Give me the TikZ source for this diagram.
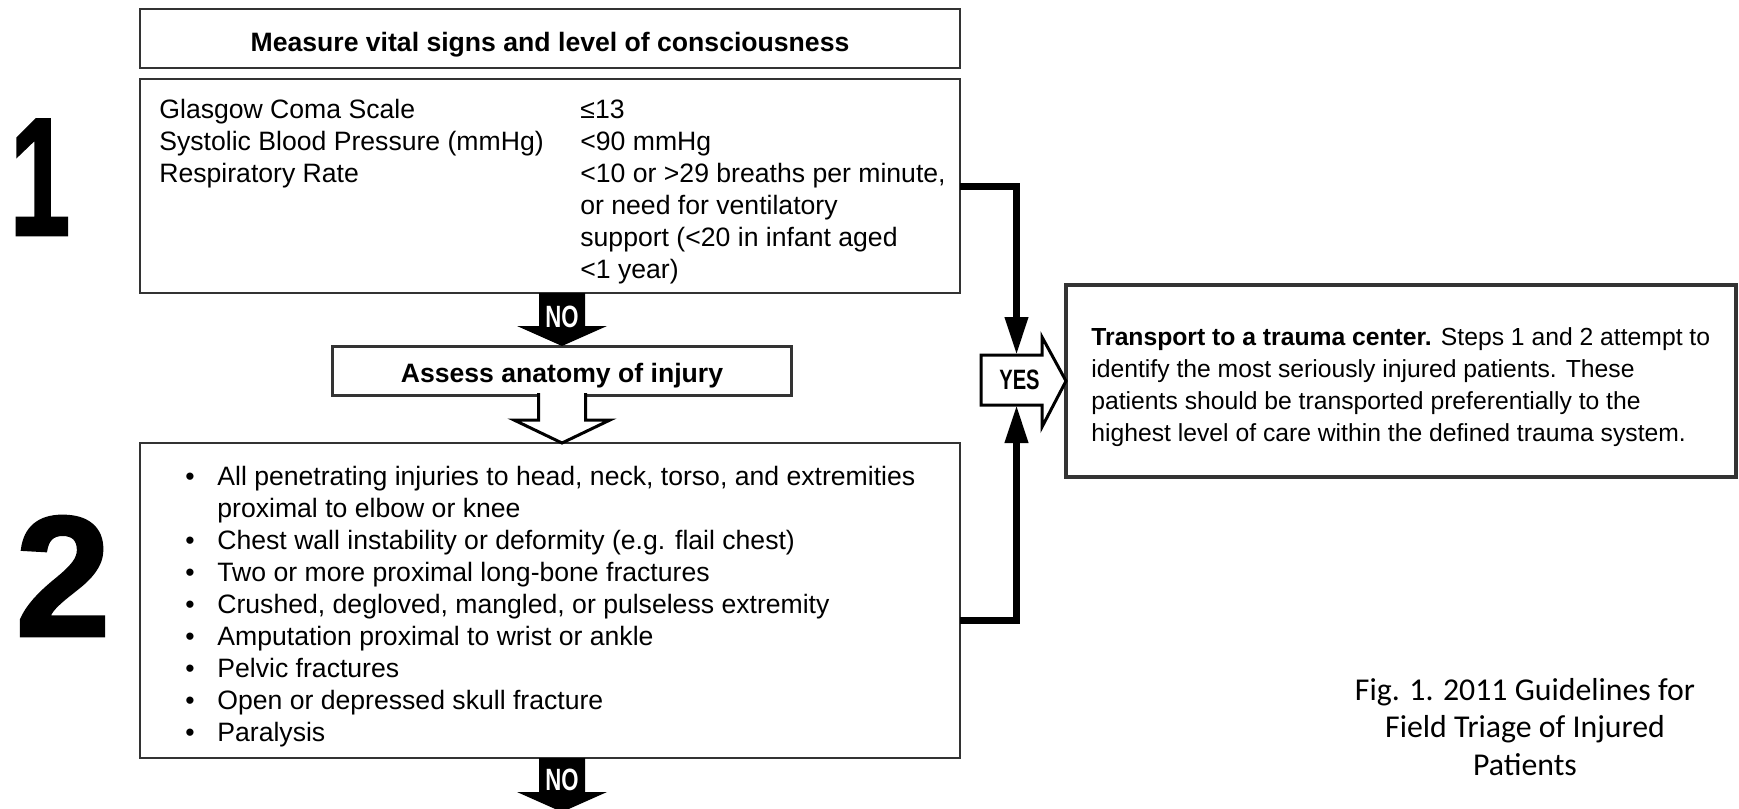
\documentclass[tikz,border=0pt]{standalone}
\usepackage{fontspec}
\usepackage{graphicx}
\setmainfont{Liberation Sans}
\newfontfamily\capfont{Carlito}
\newfontfamily\stepnum[FakeBold=1.5]{Liberation Sans Bold}
\usetikzlibrary{arrows.meta,calc}

\tikzset{
  box/.style={draw=black!80,line width=1.2pt,inner sep=0pt,outer sep=0pt},
  boxtext/.style={anchor=north west,inner sep=0pt,font=\fontsize{13.3}{16}\selectfont},
  headtext/.style={font=\fontsize{13.3}{16}\selectfont\bfseries,text depth=0pt},
  nolabel/.style={text=white,inner sep=0pt,font=\fontsize{15.4}{16}\selectfont\bfseries},
  hollow/.style={draw=black,fill=white,line width=1.5pt,line join=miter},
  conn/.style={line width=3.5pt,-{Triangle[length=19pt,width=11pt]}},
  stepno/.style={anchor=base,inner sep=0pt},
}
\newcommand{\cond}[1]{\scalebox{0.72}[1]{#1}}

\begin{document}
\begin{tikzpicture}[x=0.5pt,y=-0.5pt]
\useasboundingbox (0,0) rectangle (1739,808);

% step numbers
\node[stepno,font=\stepnum\fontsize{84}{84}\selectfont] (one) at (40,235) {\scalebox{0.65}[1]{1}};
\node[stepno,font=\stepnum\fontsize{86}{86}\selectfont] (two) at (63,636) {2};

% boxes
\node[box,headtext,text height=13pt,minimum width=410pt,minimum height=29.5pt] (measure) at (550,38.5) {Measure vital signs and level of consciousness};
\node[box,minimum width=410pt,minimum height=107pt] (vital) at (550,186) {};
\node[box,headtext,text height=11.5pt,line width=1.5pt,minimum width=229.5pt,minimum height=24.5pt] (assess) at (562,370.5) {Assess anatomy of injury};
\node[box,minimum width=410pt,minimum height=157.5pt] (anatomy) at (550,600.5) {};
\node[box,line width=2pt,minimum width=335pt,minimum height=96pt] (transport) at (1401,381) {};

\node[boxtext] (vitalcrit) at ($(vital.north west)+(19,16.6)$) {\begin{tabular}{@{}p{210.5pt}@{}l@{}}
Glasgow Coma Scale & ≤13\\
Systolic Blood Pressure (mmHg) & <90 mmHg\\
Respiratory Rate & <10 or >29 breaths per minute,\\
 & or need for ventilatory\\
 & support (<20 in infant aged\\
 & <1 year)
\end{tabular}};

\node[boxtext] (injurylist) at ($(anatomy.north west)+(45,19.6)$) {\begin{tabular}{@{}p{16pt}@{}l@{}}
• & All penetrating injuries to head, neck, torso, and extremities\\
 & proximal to elbow or knee\\
• & Chest wall instability or deformity (e.g. flail chest)\\
• & Two or more proximal long-bone fractures\\
• & Crushed, degloved, mangled, or pulseless extremity\\
• & Amputation proximal to wrist or ankle\\
• & Pelvic fractures\\
• & Open or depressed skull fracture\\
• & Paralysis
\end{tabular}};

\node[boxtext,font=\fontsize{12.35}{16}\selectfont] (transporttext) at ($(transport.north west)+(25,37.6)$) {\begin{tabular}{@{}l@{}}
\textbf{Transport to a trauma center.} Steps 1 and 2 attempt to\\
identify the most seriously injured patients. These\\
patients should be transported preferentially to the\\
highest level of care within the defined trauma system.
\end{tabular}};

% NO arrows
\fill (assess.north |- vital.south) ++(-23,0) -- ++(0,33) -- ++(-22,0) -- (assess.north) -- ++(45,-20) -- ++(-22,0) -- ++(0,-33) -- cycle;
\node[nolabel] (no1) at ([yshift=14.5pt]assess.north) {\cond{NO}};

\draw[hollow] (assess.south) ++(-23.5,-2) -- ++(0,27) -- ++(-24.5,0) -- (assess.south |- anatomy.north) -- ++(48,-23) -- ++(-24.5,0) -- ++(0,-27);

\coordinate (next) at ($(assess.south |- anatomy.south)+(0,54)$);
\fill (assess.south |- anatomy.south) ++(-23,0) -- ++(0,34) -- ++(-22,0) -- (next) -- ++(45,-20) -- ++(-22,0) -- ++(0,-34) -- cycle;
\node[nolabel] (no2) at ($(assess.south |- anatomy.south)+(0,22)$) {\cond{NO}};

% YES branch
\node[inner sep=0pt,outer sep=0pt,minimum width=30.5pt,minimum height=25pt] (yes) at (1011.5,380) {};
\node[inner sep=0pt,font=\fontsize{14}{14}\selectfont\bfseries] (yeslabel) at ([xshift=4pt]yes.center) {\cond{YES}};
\draw[conn] (vital.east) -| ([xshift=2.5pt]yes.north);
\draw[conn] ([yshift=-10pt]anatomy.east) -| ([xshift=2.5pt]yes.south);
\draw[hollow,fill=none] (yes.north west) -- (yes.north east) -- ++(0,-18) -- (transport.west) -- ($(yes.south east)+(0,22)$) -- (yes.south east) -- (yes.south west) -- cycle;

\node[anchor=north,inner sep=0pt,font=\capfont\fontsize{15.9}{18.75}\selectfont] (caption) at (1525,673.75) {\begin{tabular}{@{}c@{}}Fig. 1. 2011 Guidelines for\\Field Triage of Injured\\Patients\end{tabular}};
\end{tikzpicture}
\end{document}
